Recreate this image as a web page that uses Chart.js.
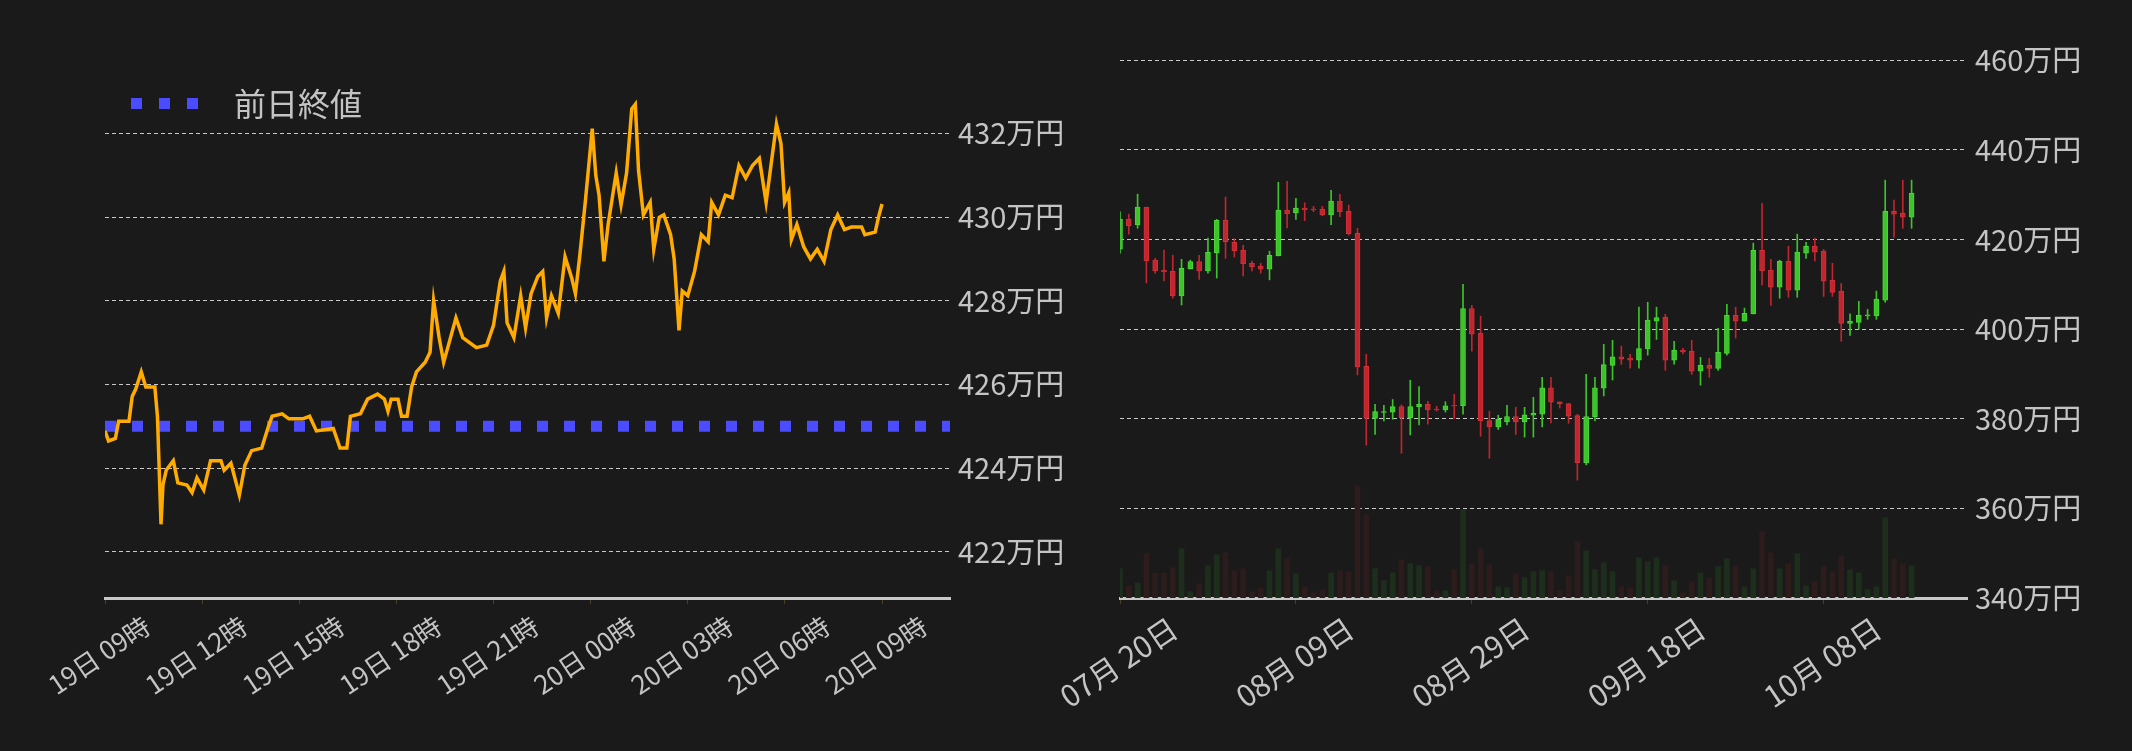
<!DOCTYPE html>
<html><head><meta charset="utf-8">
<script src="https://cdn.jsdelivr.net/npm/chart.js@4.4.0/dist/chart.umd.min.js"></script>
<style>
html,body{margin:0;padding:0;background:#1a1a1a;overflow:hidden}
.box{position:absolute;top:0;height:751px}
</style></head><body>
<div class="box" style="left:0;width:1066px"><canvas id="c1" width="1066" height="751"></canvas></div>
<div class="box" style="left:1000px;width:1132px"><canvas id="c2" width="1132" height="751"></canvas></div>
<script>
// ---- intraday (left) ----
const hours = [0,0.11,0.32,0.42,0.74,0.84,0.95,1.12,1.26,1.54,1.62,1.73,1.79,1.89,2.11,2.25,2.53,2.69,2.84,3.05,3.26,3.58,3.68,3.89,4.15,4.32,4.53,4.84,5.05,5.16,5.47,5.68,6.11,6.32,6.53,7.05,7.26,7.47,7.58,7.89,8.11,8.42,8.63,8.74,8.84,9.05,9.16,9.33,9.47,9.62,9.89,10.04,10.15,10.32,10.46,10.63,10.84,11.05,11.47,11.79,12.0,12.21,12.32,12.42,12.63,12.84,12.99,13.16,13.37,13.52,13.64,13.79,14.0,14.21,14.42,14.53,14.67,14.84,15.05,15.16,15.26,15.41,15.54,15.79,15.94,16.11,16.27,16.38,16.48,16.63,16.84,16.95,17.12,17.26,17.47,17.58,17.73,17.83,18.0,18.21,18.42,18.63,18.74,18.95,19.16,19.37,19.58,19.79,20.0,20.21,20.42,20.57,20.74,20.88,20.99,21.12,21.2,21.37,21.58,21.79,22.0,22.21,22.42,22.63,22.84,23.05,23.37,23.47,23.79,23.89,24.0];
const prices = [424.89,424.65,424.71,425.12,425.12,425.71,425.89,426.30,425.94,425.94,425.24,422.66,423.60,423.95,424.18,423.65,423.60,423.42,423.77,423.48,424.18,424.18,423.95,424.12,423.36,424.07,424.42,424.48,425.0,425.24,425.30,425.18,425.18,425.24,424.89,424.95,424.48,424.48,425.24,425.30,425.65,425.77,425.65,425.36,425.65,425.65,425.24,425.24,425.94,426.30,426.53,426.77,428.0,427.12,426.53,427.0,427.59,427.12,426.88,426.94,427.41,428.47,428.70,427.47,427.12,428.12,427.35,428.17,428.58,428.70,427.59,428.12,427.70,429.05,428.53,428.17,429.11,430.40,432.11,430.99,430.52,428.94,429.82,431.05,430.29,431.05,432.58,432.69,431.11,430.05,430.35,429.23,429.99,430.05,429.58,429.0,427.29,428.23,428.12,428.70,429.58,429.41,430.35,430.05,430.52,430.46,431.23,430.93,431.23,431.40,430.35,431.23,432.22,431.75,430.35,430.58,429.46,429.82,429.29,429.0,429.23,428.94,429.70,430.05,429.70,429.76,429.76,429.58,429.64,429.99,430.31];
const prevClose = 425.0;
const hourLabels = ['19日 09時','19日 12時','19日 15時','19日 18時','19日 21時','20日 00時','20日 03時','20日 06時','20日 09時'];
const legendLabel = '前日終値';

// ---- daily candles (right) ----
const dayLabels = ['07月 20日','08月 09日','08月 29日','09月 18日','10月 08日'];
const opens  = [417.84,424.54,423.28,427.22,415.38,413.15,412.93,407.42,413.45,415.1,413.0,417.0,424.3,419.4,417.6,414.7,414.0,413.4,416.35,426.55,425.96,427.0,426.8,426.8,425.5,428.6,426.3,421.4,391.7,380.1,381.4,381.5,382.7,380.2,382.7,383.2,382.1,382.0,383.0,382.85,404.6,399.1,379.6,378.2,379.3,380.5,379.3,380.8,381.05,386.9,383.8,383.4,380.7,370.2,380.4,386.85,391.9,393.85,393.5,393.1,395.6,401.8,402.65,393.1,395.3,395.05,390.65,391.9,391.25,394.6,403.1,401.8,403.4,417.6,413.15,409.35,415.2,408.7,416.95,418.5,417.4,410.9,408.5,401.3,401.5,402.95,402.95,406.45,426.3,425.9,425.0];
const highs  = [426.18,425.66,430.13,427.22,415.83,417.62,416.5,415.6,415.4,416.5,420.3,424.5,429.5,420.2,418.7,415.2,414.7,417.4,432.8,433.0,429.2,428.2,427.4,427.4,431.0,430.1,427.7,422.5,394.4,383.2,383.0,384.3,383.1,388.6,387.2,383.9,382.8,383.8,385.45,410.0,405.3,402.9,381.7,380.8,383.0,382.55,382.55,384.8,389.25,389.25,383.8,383.4,381.0,389.9,389.25,396.6,397.5,396.2,394.4,404.9,406.0,404.9,403.3,397.3,395.7,397.5,393.7,393.5,400.2,405.55,404.9,404.7,419.2,428.1,415.6,415.4,418.5,421.2,419.4,420.3,417.8,414.7,410.2,403.4,406.2,404.4,408.5,433.25,428.8,433.25,433.25];
const lows   = [416.95,421.19,422.53,410.32,412.48,410.77,406.9,405.4,413.4,411.1,412.48,411.4,415.8,416.1,411.9,413.0,412.5,411.0,416.35,422.6,424.5,424.2,426.2,425.3,423.3,425.1,421.0,389.8,374.1,376.5,379.5,379.9,372.3,376.4,378.6,378.8,381.7,381.5,380.0,381.0,395.1,376.1,371.2,377.6,378.6,376.5,375.9,375.9,378.2,379.05,382.4,379.0,366.3,369.7,379.5,385.1,388.65,392.1,391.3,391.3,394.2,397.7,390.8,392.2,394.5,389.9,387.5,389.25,390.8,394.2,398.0,401.8,403.4,409.8,405.3,406.9,407.1,407.1,415.8,415.2,407.3,407.3,397.3,398.6,400.0,402.2,402.2,406.0,420.5,422.5,422.5];
const closes = [424.54,423.05,427.22,415.23,413.0,412.78,407.42,413.6,415.1,413.0,417.17,424.3,419.5,417.5,414.6,413.9,413.4,416.5,426.55,425.7,427.0,426.6,426.6,425.5,428.6,426.2,421.3,391.55,380.1,381.6,381.6,382.7,380.2,382.7,383.2,382.0,381.95,382.9,382.85,404.6,398.9,379.5,378.2,379.9,380.5,379.3,380.9,381.2,386.9,383.7,383.3,380.6,370.2,380.5,386.9,392.1,393.85,393.3,393.1,395.65,402.0,402.6,393.1,395.3,394.9,390.65,391.9,391.25,394.8,403.1,401.8,403.55,417.6,413.0,409.35,415.2,408.7,417.2,418.5,417.2,410.7,408.2,401.3,401.75,403.1,403.2,406.7,426.3,425.65,425.0,430.35];
const volumes = [88,35,45,133,75,75,91,148,19,43,97,130,136,82,88,19,31,82,148,118,73,34,16,25,75,82,79,337,250,88,52,76,115,103,97,94,22,22,85,265,103,148,100,34,31,73,61,79,82,79,22,67,169,142,85,106,79,34,31,121,109,121,97,52,16,49,76,61,94,118,97,34,88,199,136,88,103,133,37,49,97,79,127,85,76,25,34,241,118,103,97];

const FONT = '"Noto Sans CJK JP","Noto Sans",sans-serif';
const TXT = '#c4c4c4';
Chart.defaults.font.family = FONT;
Chart.defaults.color = TXT;
Chart.defaults.animation = false;

const legendPlugin = {
  id:'lg',
  afterDraw(ch){
    const c = ch.ctx; c.save();
    c.fillStyle = '#4b4bff';
    [131,159,187].forEach(x=>c.fillRect(x,98,11,11));
    c.fillStyle = TXT; c.font = '32px '+FONT; c.textBaseline='middle';
    c.fillText(legendLabel, 234, 104);
    c.restore();
  }
};
function noPad(s){s.paddingLeft=0;s.paddingRight=0;}

new Chart(document.getElementById('c1'), {
  type:'line',
  data:{datasets:[
    {data:hours.map((h,i)=>({x:h,y:prices[i]})), borderColor:'#ffab00', borderWidth:3.5, pointRadius:0, tension:0, order:1},
    {data:[{x:0,y:prevClose},{x:26.1,y:prevClose}], borderColor:'#4b4bff', borderWidth:11, borderDash:[11,16], pointRadius:0, order:2}
  ]},
  options:{
    responsive:false, maintainAspectRatio:false,
    layout:{padding:{left:105,top:60,right:0,bottom:0}},
    plugins:{legend:{display:false},tooltip:{enabled:false}},
    scales:{
      x:{type:'linear',min:0,max:26.1,
        afterBuildTicks(s){s.ticks=[0,3,6,9,12,15,18,21,24].map(v=>({value:v}));},
        afterFit(s){s.height=153;noPad(s);},
        ticks:{minRotation:34,maxRotation:34,font:{size:26},color:TXT,padding:6,labelOffset:42,
          callback:(v)=>hourLabels[Math.round(v/3)]},
        grid:{drawOnChartArea:false,drawTicks:true,tickLength:6,color:'#4a3f25'},
        border:{display:true,color:'#c8c8c8',width:3}},
      y:{position:'right',min:420.9,max:433.75,
        afterBuildTicks(s){s.ticks=[422,424,426,428,430,432].map(v=>({value:v}));},
        afterFit(s){s.width=116;},
        ticks:{font:{size:29},color:TXT,padding:8,callback:v=>v+'万円'},
        grid:{color:'#c8c8c8',lineWidth:1,drawTicks:false,tickLength:8},
        border:{display:false,dash:[4,3]}}
    }
  },
  plugins:[legendPlugin]
});

const GREEN='#3cc42a', RED='#c1252d';
const up = opens.map((o,i)=>closes[i]>=o);
const idx = opens.map((o,i)=>i);
new Chart(document.getElementById('c2'), {
  type:'bar',
  data:{datasets:[
    {data:idx.map(i=>({x:i,y:[opens[i],closes[i]]})), backgroundColor:up.map(u=>u?GREEN:RED), borderColor:up.map(u=>u?'#48d835':'#d23038'), borderWidth:1, borderSkipped:false, barThickness:5, grouped:false, yAxisID:'y', order:1},
    {data:idx.map(i=>({x:i,y:[lows[i],highs[i]]})), backgroundColor:up.map(u=>u?GREEN:RED), barThickness:1, grouped:false, yAxisID:'y', order:2},
    {data:idx.map(i=>({x:i,y:volumes[i]})), backgroundColor:up.map(u=>u?'#1e2e1c':'#2c1c1c'), barThickness:5, grouped:false, yAxisID:'yv', order:3}
  ]},
  options:{
    responsive:false, maintainAspectRatio:false,
    layout:{padding:{left:120,top:50,right:0,bottom:0}},
    plugins:{legend:{display:false},tooltip:{enabled:false}},
    scales:{
      x:{type:'linear',min:0,max:96.3,offset:false,
        afterBuildTicks(s){s.ticks=[0,20,40,60,80].map(v=>({value:v}));},
        afterFit(s){s.height=153;noPad(s);},
        ticks:{minRotation:34,maxRotation:34,font:{size:30},color:TXT,padding:6,labelOffset:54,
          callback:(v)=>dayLabels[Math.round(v/20)]},
        grid:{drawOnChartArea:false,drawTicks:true,tickLength:6,color:'#4a3f25',offset:false},
        border:{display:true,color:'#c8c8c8',width:3}},
      y:{position:'right',min:340,max:462.3,
        afterBuildTicks(s){s.ticks=[340,360,380,400,420,440,460].map(v=>({value:v}));},
        afterFit(s){s.width=165;},
        ticks:{font:{size:29},color:TXT,padding:8,callback:v=>v+'万円'},
        grid:{color:'#c8c8c8',lineWidth:1,drawTicks:false},
        border:{display:false,dash:[4,3]}},
      yv:{display:false,min:0,max:1644}
    }
  }
});
</script></body></html>
